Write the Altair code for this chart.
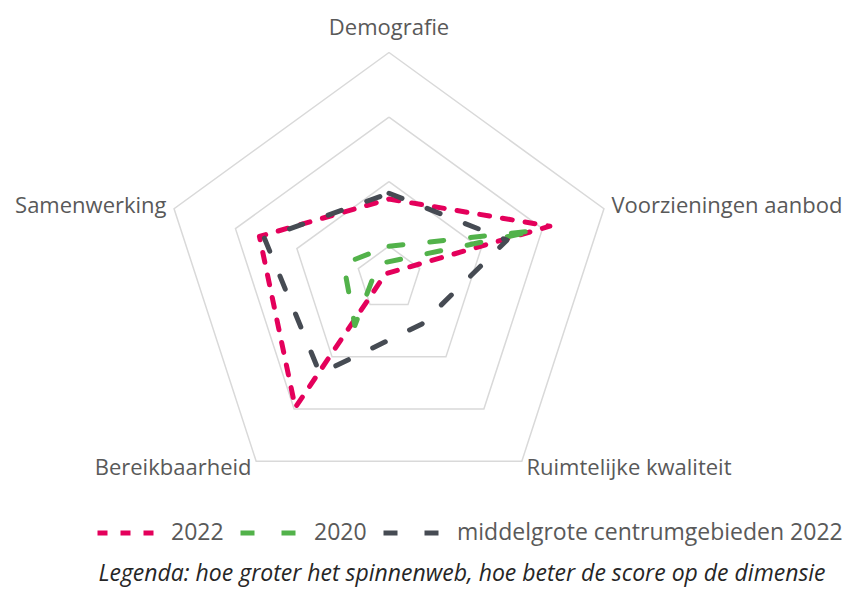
import altair as alt
import pandas as pd

# ---- data ----
dimensions = ["Demografie", "Voorzieningen aanbod", "Ruimtelijke kwaliteit",
              "Bereikbaarheid", "Samenwerking"]
values_2022 = [1.73, 3.12, 0.41, 2.97, 2.61]
values_2020 = [1.00, 2.90, 0.22, 1.40, 1.24]
values_mid = [1.82, 2.42, 1.37, 2.32, 2.53]
series_names = ["2022", "2020", "middelgrote centrumgebieden 2022"]
grid_levels = [1, 2, 3, 4]
scale_min, scale_max = 0.5, 4.0
caption = "Legenda: hoe groter het spinnenweb, hoe beter de score op de dimensie"

colors = ["#E4005B", "#52B24A", "#464B53"]
dashes = [[10, 13], [14, 27], [14, 27]]
text_color = "#595959"
font = "Open Sans"
fsize = 23
lsize = 22

n = len(dimensions)
rows = []
for name, vals in zip(series_names, [values_2022, values_2020, values_mid]):
    for k in range(n + 1):
        i = k % n
        rows.append({"series": name, "dim": dimensions[i], "idx": i, "order": k, "value": vals[i]})
series_df = pd.DataFrame(rows)

grid_rows = []
for lv in grid_levels:
    for k in range(n + 1):
        grid_rows.append({"level": lv, "idx": k % n, "order": k, "value": lv})
grid_df = pd.DataFrame(grid_rows)

label_df = pd.DataFrame({"dim": dimensions, "idx": list(range(n)), "value": [scale_max] * n})

span = scale_max - scale_min
W, H = 842, 579
px = 226.0
cx, cy = 381.0, 270.5
xdom = [-cx / px, (W - cx) / px]
ydom = [-(H - cy) / px, cy / px]

def polar(chart, rscale=1.0):
    return chart.transform_calculate(
        r=f"{rscale} * (datum.value - {scale_min}) / {span}",
        ang=f"datum.idx * 2 * PI / {n}",
    ).transform_calculate(
        px="datum.r * sin(datum.ang)",
        py="datum.r * cos(datum.ang)",
    )

X = alt.X("px:Q", scale=alt.Scale(domain=xdom, nice=False, zero=False), axis=None)
Y = alt.Y("py:Q", scale=alt.Scale(domain=ydom, nice=False, zero=False), axis=None)

grid = polar(alt.Chart(grid_df)).mark_line(color="#D9D9D9", strokeWidth=1.5).encode(
    x=X, y=Y, detail="level:N", order="order:Q"
)

lines = polar(alt.Chart(series_df)).mark_line(strokeWidth=5, strokeCap="round", strokeJoin="round").encode(
    x=X, y=Y,
    order="order:Q",
    color=alt.Color("series:N", scale=alt.Scale(domain=series_names, range=colors), title=None,
                    legend=alt.Legend(orient="none", legendX=87, legendY=490, direction="horizontal",
                                      labelFontSize=fsize, labelColor=text_color, labelFont=font,
                                      symbolType="stroke", symbolSize=4225, symbolStrokeWidth=5,
                                      labelOffset=6, columnPadding=6, labelLimit=600)),
    strokeDash=alt.StrokeDash("series:N", scale=alt.Scale(domain=series_names, range=dashes), title=None),
)

lab_base = polar(alt.Chart(label_df), 1.035)
lab_top = lab_base.transform_filter("datum.idx == 0").mark_text(
    align="center", baseline="alphabetic", dy=-10, fontSize=lsize, font=font, color=text_color
).encode(x=X, y=Y, text="dim:N")
lab_right = lab_base.transform_filter("datum.idx == 1 || datum.idx == 2").mark_text(
    align="left", baseline="middle", fontSize=lsize, font=font, color=text_color
).encode(x=X, y=Y, text="dim:N")
lab_left = lab_base.transform_filter("datum.idx == 3 || datum.idx == 4").mark_text(
    align="right", baseline="middle", fontSize=lsize, font=font, color=text_color
).encode(x=X, y=Y, text="dim:N")

cap = alt.Chart(pd.DataFrame({"t": [caption]})).mark_text(
    align="center", baseline="middle", fontSize=fsize, font=font, fontStyle="italic", color="#262626"
).encode(x=alt.value(454), y=alt.value(566), text="t:N")

chart = alt.layer(grid, lines, lab_top, lab_right, lab_left, cap).properties(
    width=W, height=H, autosize=alt.AutoSizeParams(type="none"), padding=0
).configure(background="white").configure_view(stroke=None)

chart.save("out.html", embed_options={"renderer": "svg", "actions": False})
